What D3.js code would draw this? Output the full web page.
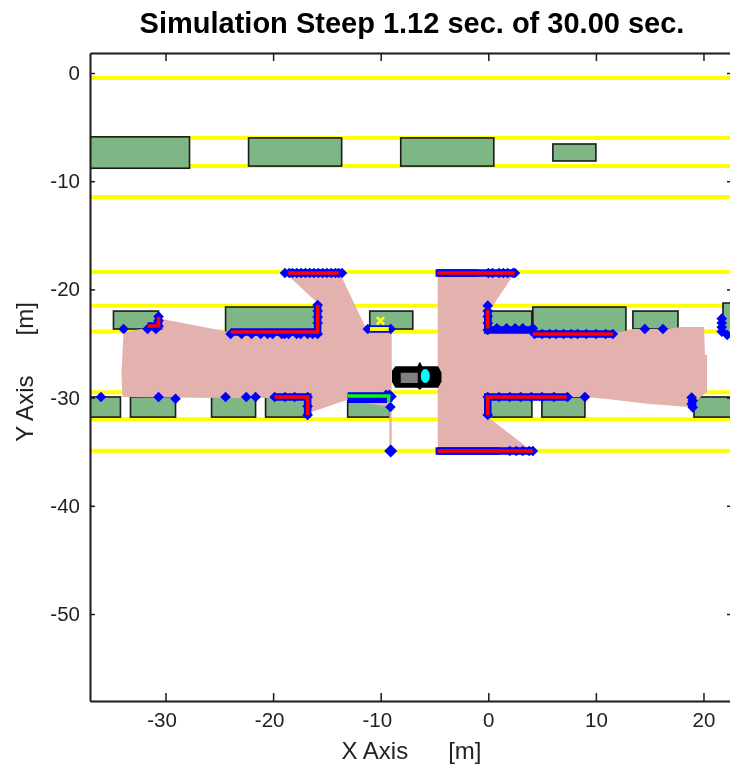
<!DOCTYPE html>
<html>

<head>
    <meta charset="utf-8">
    <script src="https://d3js.org/d3.v7.min.js"></script>
    <style>
        html, body { margin: 0; padding: 0; background: #fff; overflow: hidden; }
        text { font-family: "Liberation Sans", Arial, sans-serif; }
    </style>
</head>

<body>
    <svg id="svgContainer" width="730" height="765"></svg>
    <script>
        const titleText = "Simulation Steep 1.12 sec. of 30.00 sec."
        const xLabel = "X Axis      [m]"
        const yLabel = "Y Axis      [m]"
        const xTicks = [-30, -20, -10, 0, 10, 20]
        const yTicks = [0, -10, -20, -30, -40, -50]

        // lane markings, y in metres
        const laneLines = [-0.46, -6.0, -8.6, -11.46, -18.4, -21.5, -23.9, -29.5, -32, -34.9]

        // parked cars: x0, x1, yTop, yBottom
        const parkedCars = [
            [-45, -27.77, -5.9, -8.8], [-22.28, -13.63, -6.0, -8.6], [-8.14, 0.51, -6.0, -8.6], [6.0, 10.0, -6.56, -8.13],
            [-34.84, -30.65, -22.0, -23.66], [-24.42, -15.86, -21.63, -24.12], [-11.02, -7.02, -22.0, -23.66],
            [-0.05, 4.05, -22.0, -23.94], [4.14, 12.79, -21.63, -24.12], [13.44, 17.63, -22.0, -23.66], [21.81, 30.5, -21.26, -24.2],
            [-38.2, -34.19, -29.94, -31.8], [-33.26, -29.07, -29.94, -31.8], [-25.72, -21.63, -29.94, -31.8], [-20.7, -16.6, -29.94, -31.8],
            [-13.07, -9.16, -29.94, -31.8], [-0.05, 4.05, -29.94, -31.8], [4.98, 8.98, -29.94, -31.8], [19.12, 23.1, -29.94, -31.8]
        ]

        // free space seen by the sensor
        const freeLeft = [
            [-18.47, -18.85], [-13.63, -18.85], [-11.2, -23.94], [-8.98, -23.94], [-8.98, -29.57], [-8.98, -34.9], [-9.2, -34.9], [-9.2, -30.87],
            [-13.16, -30.22], [-16.42, -31.33], [-16.79, -30.04], [-24.7, -30.04], [-34, -29.94], [-34.1, -27.73], [-33.9, -23.94],
            [-31.67, -23.57], [-30.37, -22.74], [-24.51, -23.84], [-24.05, -24.03], [-15.67, -24.12], [-15.67, -21.44]
        ]
        const freeRight = [
            [-4.7, -18.48], [2.47, -18.48], [0.33, -21.63], [-0.05, -21.9], [-0.05, -23.75], [4.14, -23.94], [11.58, -24.12],
            [13.44, -23.66], [16.23, -23.66], [18, -23.47], [20.05, -23.47], [20.14, -26.06], [20.33, -26.06], [20.33, -29.48],
            [18.56, -30.87], [15.02, -30.6], [11.02, -30.13], [8.98, -29.94], [-0.05, -29.94], [-0.05, -31.8], [3.58, -34.57],
            [4.14, -34.93], [-4.7, -34.93]
        ]

        // detected object outlines
        const redLines = [
            [[-18.6, -18.48], [-13.9, -18.48]],
            [[-23.95, -23.94], [-15.86, -23.94], [-15.86, -21.44]],
            [[-31.67, -23.38], [-30.65, -23.38], [-30.65, -22.55]],
            [[-19.86, -29.94], [-16.79, -29.94], [-16.79, -31.6]],
            [[-4.7, -18.48], [2.47, -18.48]],
            [[-4.7, -34.93], [4.14, -34.93]],
            [[-0.05, -21.9], [-0.05, -23.6]],
            [[4.14, -24.12], [11.58, -24.12]],
            [[-0.05, -31.6], [-0.05, -29.94], [7.3, -29.94]]
        ]
        const blueLines = [
            [[-4.9, -18.48], [-0.9, -18.48]],
            [[-4.9, -34.93], [1.1, -34.93]],
            [[-0.05, -21.9], [-0.05, -23.75], [4.14, -23.75]],
            [[-13.07, -30.15], [-9.4, -30.15]]
        ]
        const greenLine = [[-13.07, -29.85], [-9.26, -29.85], [-9.26, -30.4]]
        const yellowLine = [[-11.0, -23.66], [-9.25, -23.66]]
        const yellowCross = [-10.02, -22.9]

        // sensor hits
        const hitsX = [
            -18.9, -18.5, -18.2, -17.8, -17.4, -17.0, -16.6, -16.2, -15.8, -15.4, -15.0, -14.6, -14.2, -13.9, -13.6,
            -23.95, -22.93, -22.0, -21.16, -20.51, -20.05, -19.2, -18.93, -18.56, -17.81, -17.44, -16.79, -16.33, -15.86,
            -15.86, -15.86, -15.86, -15.86,
            -33.9, -31.67, -30.65, -30.65, -30.65, -30.9,
            -36.0, -30.65, -29.07, -24.42, -22.5, -21.63,
            -19.86, -18.9, -18.0, -16.79, -16.79, -16.79,
            -9.5, -9.2, -9.0, -9.1, -11.2, -9.07,
            0.0, 0.4, 1.0, 1.4, 1.8, 2.3, 2.47,
            -0.05, -0.05, -0.05, -0.05, -0.05, 4.14, 3.2, 2.5, 1.7, 0.8,
            2.0, 2.6, 3.2, 3.8, 4.14,
            4.3, 5.0, 5.7, 6.3, 7.0, 7.7, 8.3, 9.1, 10.0, 10.9, 11.58,
            -0.05, -0.05, 1.0, 2.0, 3.0, 4.0,
            4.98, 6.1, 7.36, 8.98,
            14.55, 16.23,
            18.9, 19.0, 18.9, 19.0,
            21.7, 21.7, 21.7, 21.7, 22.2
        ]
        const hitsY = [
            -18.48, -18.48, -18.48, -18.48, -18.48, -18.48, -18.48, -18.48, -18.48, -18.48, -18.48, -18.48, -18.48, -18.48, -18.48,
            -24.12, -24.12, -24.12, -24.12, -24.12, -24.12, -24.12, -24.12, -24.12, -24.12, -24.12, -24.12, -24.12, -24.12,
            -21.44, -22.0, -22.55, -23.1,
            -23.66, -23.66, -23.4, -22.9, -22.5, -23.66,
            -29.94, -29.94, -30.1, -29.94, -29.94, -29.94,
            -29.94, -29.94, -29.94, -29.94, -30.8, -31.6,
            -29.75, -29.75, -29.9, -30.87, -23.66, -23.66,
            -18.48, -18.48, -18.48, -18.48, -18.48, -18.48, -18.48,
            -21.5, -22.0, -22.5, -23.1, -23.75, -23.6, -23.6, -23.6, -23.6, -23.6,
            -34.93, -34.93, -34.93, -34.93, -34.93,
            -24.12, -24.12, -24.12, -24.12, -24.12, -24.12, -24.12, -24.12, -24.12, -24.12, -24.12,
            -31.6, -29.94, -29.94, -29.94, -29.94, -29.94,
            -29.94, -29.94, -29.94, -29.94,
            -23.66, -23.66,
            -30.0, -30.3, -30.6, -30.9,
            -22.7, -23.1, -23.5, -23.9, -24.2
        ]
        const farHit = [-9.07, -34.93]

        // ego car outline, metres
        const egoBody = [
            [-8.88, -27.54], [-8.6, -27.17], [-6.56, -27.17], [-6.37, -26.8], [-6.19, -27.17], [-4.7, -27.17], [-4.42, -27.7],
            [-4.42, -28.5], [-4.7, -29.02], [-6.19, -29.02], [-6.37, -29.2], [-6.56, -29.02], [-8.6, -29.02], [-8.88, -28.55]
        ]
        const egoCabin = [-8.14, -6.56, -27.7, -28.65]
        const egoGlass = [-5.86, -28.0, 0.42, 0.65]

        const width = 730, height = 765
        const plotLeft = 90, plotRight = 732, plotTop = 53, plotBottom = 701
        const xScale = d3.scaleLinear().domain([-37.02, 22.65]).range([plotLeft, plotRight])
        const yScale = d3.scaleLinear().domain([1.85, -58.04]).range([plotTop, plotBottom])
        const line = d3.line().x(d => xScale(d[0])).y(d => yScale(d[1]))
        const diamond = d3.symbol().type(d3.symbolDiamond2)

        const svgContainer = d3.select("#svgContainer")
        svgContainer.append("defs").append("clipPath").attr("id", "plotClip").append("rect")
            .attr("x", plotLeft).attr("y", plotTop).attr("width", plotRight - plotLeft).attr("height", plotBottom - plotTop)
        const soft = svgContainer.append("defs").append("filter").attr("id", "soft")
        soft.append("feGaussianBlur").attr("stdDeviation", 0.45)

        const root = svgContainer.append("g").attr("filter", "url(#soft)")
        const plot = root.append("g").attr("clip-path", "url(#plotClip)")

        plot.selectAll(".lane").data(laneLines).join("line")
            .attr("x1", plotLeft).attr("x2", plotRight)
            .attr("y1", d => yScale(d)).attr("y2", d => yScale(d))
            .attr("stroke", "#ffff00").attr("stroke-width", 4)

        plot.selectAll(".parked").data(parkedCars).join("rect")
            .attr("x", d => xScale(d[0])).attr("width", d => xScale(d[1]) - xScale(d[0]))
            .attr("y", d => yScale(d[2])).attr("height", d => yScale(d[3]) - yScale(d[2]))
            .attr("fill", "#7fb685").attr("stroke", "#1a1a1a").attr("stroke-width", 1.6)

        plot.selectAll(".free").data([freeLeft, freeRight]).join("path")
            .attr("d", d => line(d) + "Z").attr("fill", "#e3b1ae")

        plot.selectAll(".blueOutline").data(redLines.concat([greenLine, yellowLine])).join("path")
            .attr("d", line).attr("fill", "none").attr("stroke", "#0000ff").attr("stroke-width", 7.5)
        plot.selectAll(".blueBar").data(blueLines).join("path")
            .attr("d", line).attr("fill", "none").attr("stroke", "#0000ff").attr("stroke-width", 7.5)

        plot.selectAll(".hit").data(hitsX.map((x, i) => [x, hitsY[i]])).join("path")
            .attr("d", diamond.size(72)())
            .attr("transform", d => `translate(${xScale(d[0])},${yScale(d[1])})`)
            .attr("fill", "#0000ff")
        plot.append("path")
            .attr("d", diamond.size(110)())
            .attr("transform", `translate(${xScale(farHit[0])},${yScale(farHit[1])})`)
            .attr("fill", "#0000ff")

        plot.selectAll(".red").data(redLines).join("path")
            .attr("d", line).attr("fill", "none").attr("stroke", "#ff0000").attr("stroke-width", 3.6)
        plot.append("path").attr("d", line(greenLine)).attr("fill", "none").attr("stroke", "#00ff00").attr("stroke-width", 3.4)
        plot.append("path").attr("d", line(yellowLine)).attr("fill", "none").attr("stroke", "#ffff00").attr("stroke-width", 4)
        plot.append("path")
            .attr("d", d3.symbol().type(d3.symbolX).size(36)())
            .attr("transform", `translate(${xScale(yellowCross[0])},${yScale(yellowCross[1])})`)
            .attr("fill", "none").attr("stroke", "#ffff00").attr("stroke-width", 2.6)

        plot.append("path").attr("d", line(egoBody) + "Z").attr("fill", "#000")
            .attr("stroke", "#000").attr("stroke-width", 1.5).attr("stroke-linejoin", "round")
        plot.append("rect")
            .attr("x", xScale(egoCabin[0])).attr("width", xScale(egoCabin[1]) - xScale(egoCabin[0]))
            .attr("y", yScale(egoCabin[2])).attr("height", yScale(egoCabin[3]) - yScale(egoCabin[2]))
            .attr("fill", "#808080")
        plot.append("ellipse")
            .attr("cx", xScale(egoGlass[0])).attr("cy", yScale(egoGlass[1]))
            .attr("rx", xScale(egoGlass[2]) - xScale(0)).attr("ry", yScale(-egoGlass[3]) - yScale(0))
            .attr("fill", "#00ffff")

        // box with inward ticks on every side
        const axes = root.append("g")
        const tickColor = "#1a1a1a"
        const plainNumber = d => String(d)
        const bottomAxis = axes.append("g").attr("transform", `translate(0,${plotBottom})`)
            .call(d3.axisBottom(xScale).tickValues(xTicks).tickFormat(plainNumber).tickSizeInner(-8).tickSizeOuter(0).tickPadding(11))
        axes.append("g").attr("transform", `translate(0,${plotTop})`)
            .call(d3.axisTop(xScale).tickValues(xTicks).tickFormat("").tickSizeInner(-8).tickSizeOuter(0))
        axes.append("g").attr("transform", `translate(${plotLeft},0)`)
            .call(d3.axisLeft(yScale).tickValues(yTicks).tickFormat(plainNumber).tickSizeInner(-5).tickSizeOuter(0).tickPadding(10))
        axes.append("g").attr("transform", `translate(${plotRight},0)`)
            .call(d3.axisRight(yScale).tickValues(yTicks).tickFormat("").tickSizeInner(-5).tickSizeOuter(0))
        axes.selectAll(".domain").attr("stroke", tickColor).attr("stroke-width", 2)
        axes.selectAll(".tick line").attr("stroke", tickColor).attr("stroke-width", 1.5)
        axes.selectAll(".tick text").attr("font-size", 20.5).attr("fill", "#222")
            .attr("font-family", "'Liberation Sans', Arial, sans-serif")
        // labels sit a little left of the tick when they carry a minus
        bottomAxis.selectAll(".tick text").attr("dx", d => d < 0 ? -4 : 0)

        root.append("text").text(titleText)
            .attr("x", 412).attr("y", 33).attr("text-anchor", "middle")
            .attr("font-size", 29).attr("font-weight", "bold").attr("fill", "#000")
        root.append("text").text(xLabel)
            .attr("x", 411.5).attr("y", 759).attr("text-anchor", "middle")
            .attr("font-size", 24).attr("fill", "#222").style("white-space", "pre")
        root.append("text").text(yLabel)
            .attr("transform", "translate(33,372) rotate(-90)").attr("text-anchor", "middle")
            .attr("font-size", 24).attr("fill", "#222").style("white-space", "pre")
    </script>
</body>

</html>
